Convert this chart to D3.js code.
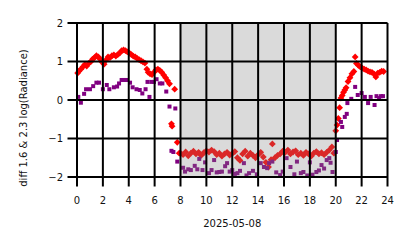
<!DOCTYPE html>
<html>
<head>
<meta charset="utf-8">
<script src="https://cdn.jsdelivr.net/npm/d3@7"></script>
<style>
  html, body { margin: 0; padding: 0; background: #fff; }
  svg { display: block; font-family: "DejaVu Sans", sans-serif; }
</style>
</head>
<body>
<div id="chart"></div>
<script>
// Hour-of-day values (2025-05-08)
const redHours = [
  0.05, 0.15, 0.3, 0.45, 0.6, 0.75, 0.9, 1.05, 1.2, 1.35, 1.5, 1.65, 1.8, 1.95, 2.1, 2.25, 2.4, 2.55, 2.7, 2.85,
  3.0, 3.15, 3.3, 3.45, 3.6, 3.75, 3.9, 4.05, 4.2, 4.35, 4.5, 4.65, 4.8, 4.95, 5.1, 5.25, 5.4, 5.5, 5.65, 5.8,
  5.95, 6.1, 6.25, 6.4, 6.55, 6.7, 6.85, 7.0, 7.15, 7.3, 7.35, 7.55, 7.75, 7.9,
  8.0, 8.2, 8.4, 8.6, 8.8, 9.0, 9.2, 9.4, 9.6, 9.8, 10.0, 10.2, 10.4, 10.6, 10.8, 11.0, 11.2, 11.4, 11.6, 11.8,
  12.0, 12.2, 12.4, 12.6, 12.8, 13.0, 13.2, 13.4, 13.6, 13.8, 14.0, 14.2, 14.4, 14.6, 14.8, 15.0, 15.1, 15.3,
  15.5, 15.7, 15.9, 16.1, 16.3, 16.5, 16.7, 16.9, 17.1, 17.3, 17.5, 17.7, 17.9, 18.1, 18.3, 18.5, 18.7, 18.9,
  19.1, 19.3, 19.5, 19.7, 19.85,
  20.0, 20.1, 20.2, 20.3, 20.4, 20.5, 20.6, 20.7, 20.8, 20.95, 21.1, 21.25, 21.4, 21.5, 21.6, 21.75, 21.9,
  22.05, 22.2, 22.35, 22.5, 22.65, 22.8, 22.95, 23.1, 23.25, 23.4, 23.55, 23.7
];
const redValues = [
  0.70, 0.75, 0.80, 0.86, 0.92, 0.88, 0.95, 0.99, 1.06, 1.10, 1.15, 1.12, 1.06, 0.98, 0.93, 1.04, 1.12, 1.10, 1.15, 1.17,
  1.14, 1.18, 1.22, 1.28, 1.30, 1.28, 1.25, 1.22, 1.18, 1.14, 1.12, 1.08, 1.05, 1.02, 0.99, 0.96, 0.80, 0.72, 0.68, 0.66,
  0.72, 0.78, 0.80, 0.77, 0.72, 0.65, 0.58, 0.50, 0.42, -0.62, -0.68, 0.28, -1.10, -1.38,
  -1.38, -1.42, -1.35, -1.45, -1.38, -1.33, -1.40, -1.36, -1.44, -1.37, -1.32, -1.35, -1.30, -1.34, -1.42, -1.38, -1.46, -1.40, -1.36, -1.43,
  -1.39, -1.34, -1.50, -1.57, -1.40, -1.33, -1.46, -1.38, -1.44, -1.50, -1.42, -1.36, -1.48, -1.62, -1.74, -1.55, -1.14, -1.50,
  -1.44, -1.40, -1.33, -1.36, -1.30, -1.40, -1.35, -1.32, -1.42, -1.38, -1.44, -1.36, -1.40, -1.46, -1.38, -1.34, -1.40, -1.37,
  -1.42, -1.36, -1.30, -1.22, -1.38,
  -0.80, -0.65, -0.48, -0.20, 0.05, 0.12, 0.20, 0.26, 0.32, 0.48, 0.58, 0.68, 0.74, 1.12, 0.95, 0.90, 0.86,
  0.83, 0.80, 0.78, 0.75, 0.73, 0.72, 0.68, 0.60, 0.70, 0.72, 0.75, 0.74
];

const purpleHours = [
  0.1, 0.3, 0.55, 0.7, 1.0, 1.25, 1.5, 1.7, 2.0, 2.3, 2.5, 2.85, 3.1, 3.25, 3.45, 3.65, 3.8, 4.1, 4.3, 4.6,
  4.85, 5.05, 5.3, 5.45, 5.6, 5.75, 5.95, 6.15, 6.4, 6.6, 6.9, 7.15, 7.6,
  7.3, 7.45, 7.75, 8.2, 8.35, 8.6, 8.8, 9.1, 9.3, 9.45, 9.7, 9.9, 10.2, 10.4, 10.6, 10.8, 11.0, 11.2, 11.45,
  11.6, 11.8, 12.0, 12.2, 12.4, 12.6, 12.9, 13.1, 13.3, 13.6, 13.9, 14.2, 14.45, 14.7, 14.85, 15.1, 15.4, 15.7,
  15.9, 16.2, 16.5, 16.8, 17.0, 17.3, 17.5, 17.8, 18.0, 18.2, 18.5, 18.7, 18.9, 19.1, 19.3, 19.5, 19.6, 19.75,
  20.0, 20.1,
  20.4, 20.5, 20.7, 20.85, 20.9, 21.2, 21.5, 21.7, 22.0, 22.25, 22.5, 22.7, 23.0, 23.15, 23.35, 23.5, 23.65
];
const purpleValues = [
  0.08, -0.07, 0.16, 0.28, 0.28, 0.36, 0.45, 0.45, 0.28, 0.39, 0.28, 0.33, 0.35, 0.43, 0.52, 0.52, 0.52, 0.45, 0.33, 0.28,
  0.26, 0.17, 0.28, 0.47, 0.08, 0.47, 0.47, 0.54, 0.43, 0.43, 0.22, -0.17, -0.22,
  -1.32, -1.35, -1.60, -1.76, -1.86, -1.80, -1.82, -1.71, -1.80, -1.53, -1.82, -1.62, -1.90, -1.82, -1.56, -1.88, -1.87, -1.86, -1.72,
  -1.64, -1.86, -1.82, -1.92, -1.90, -1.84, -1.64, -1.96, -1.90, -1.84, -1.93, -1.64, -1.74, -1.77, -1.64, -1.60, -1.88, -1.95,
  -1.86, -1.51, -1.74, -1.93, -1.60, -1.90, -1.87, -1.96, -1.62, -1.94, -1.87, -1.83, -1.69, -1.78, -1.56, -1.51, -1.63, -1.87,
  -1.35, -1.04,
  -0.57, -0.70, -0.44, -0.36, -0.08, 0.03, 0.34, 0.13, 0.18, 0.08, -0.08, 0.08, -0.13, 0.10, 0.05, 0.10, 0.10
];

const xTicks = [0, 2, 4, 6, 8, 10, 12, 14, 16, 18, 20, 22, 24];
const yTicks = [-2, -1, 0, 1, 2];
const shadeRange = [8, 20];   // daytime band
const xLabel = '2025-05-08';
const yLabel = 'diff 1.6 & 2.3  log(Radiance)';

const W = 414, H = 248;
const margin = { top: 23, right: 26.5, bottom: 71, left: 77 };

const svg = d3.select('#chart').append('svg')
  .attr('width', W).attr('height', H)
  .attr('viewBox', `0 0 ${W} ${H}`);

const x = d3.scaleLinear().domain([0, 24]).range([margin.left, W - margin.right]);
const y = d3.scaleLinear().domain([-2, 2]).range([H - margin.bottom, margin.top]);

const redPts = redHours.map((h, i) => ({ h, v: redValues[i] }));
const purplePts = purpleHours.map((h, i) => ({ h, v: purpleValues[i] }));

// light frame
svg.append('rect')
  .attr('x', x(0)).attr('y', y(2))
  .attr('width', x(24) - x(0)).attr('height', y(-2) - y(2))
  .attr('fill', 'none').attr('stroke', '#d8d8d8').attr('stroke-width', 1);

// red diamonds
const dR = 3.4;
svg.append('g').selectAll('path')
  .data(redPts)
  .enter()
  .append('path')
  .attr('d', d => {
    const cx = x(d.h), cy = y(d.v);
    return `M${cx},${cy - dR}L${cx + dR},${cy}L${cx},${cy + dR}L${cx - dR},${cy}Z`;
  })
  .attr('fill', '#ff0000');

// purple squares
const s = 4;
svg.append('g').selectAll('rect')
  .data(purplePts)
  .enter()
  .append('rect')
  .attr('x', d => x(d.h) - s / 2).attr('y', d => y(d.v) - s / 2)
  .attr('width', s).attr('height', s)
  .attr('fill', '#800080');

// shaded daytime band (on top of the points)
svg.append('rect')
  .attr('x', x(shadeRange[0])).attr('y', y(2))
  .attr('width', x(shadeRange[1]) - x(shadeRange[0]))
  .attr('height', y(-2) - y(2))
  .attr('fill', '#838383').attr('opacity', 0.3);

// gridlines that run out past the plot as tick marks
const tickLen = 9.5;
svg.append('g').selectAll('line')
  .data(xTicks)
  .enter()
  .append('line')
  .attr('x1', d => x(d)).attr('x2', d => x(d))
  .attr('y1', y(2)).attr('y2', y(-2) + tickLen)
  .attr('stroke', '#000').attr('stroke-width', 2);

svg.append('g').selectAll('line')
  .data(yTicks)
  .enter()
  .append('line')
  .attr('x1', x(0) - tickLen).attr('x2', x(24))
  .attr('y1', d => y(d)).attr('y2', d => y(d))
  .attr('stroke', '#000').attr('stroke-width', 2);

// tick labels
svg.append('g').selectAll('text')
  .data(xTicks)
  .enter()
  .append('text')
  .attr('x', d => x(d)).attr('y', y(-2) + 27)
  .attr('text-anchor', 'middle')
  .style('font-size', '10px')
  .style('fill', '#111')
  .text(d => d);

svg.append('g').selectAll('text')
  .data(yTicks)
  .enter()
  .append('text')
  .attr('x', x(0) - 14).attr('y', d => y(d))
  .attr('dy', '0.35em')
  .attr('text-anchor', 'end')
  .style('font-size', '10px')
  .style('fill', '#111')
  .text(d => d < 0 ? '\u2212' + Math.abs(d) : d);

// axis titles
svg.append('text')
  .attr('x', (x(0) + x(24)) / 2).attr('y', 227)
  .attr('text-anchor', 'middle')
  .style('font-size', '10px')
  .style('fill', '#111')
  .text(xLabel);

svg.append('text')
  .attr('transform', `translate(27,${(y(2) + y(-2)) / 2 + 18}) rotate(-90)`)
  .attr('text-anchor', 'middle')
  .style('font-size', '10px')
  .style('fill', '#111')
  .text(yLabel);
</script>
</body>
</html>
